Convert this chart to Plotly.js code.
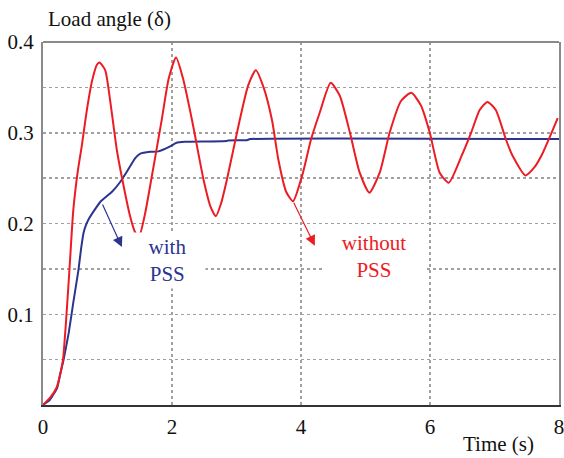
<!DOCTYPE html>
<html>
<head>
<meta charset="utf-8">
<script src="https://cdn.plot.ly/plotly-3.0.1.min.js"></script>
<style>
  html, body { margin: 0; padding: 0; background: #fff; }
  #chart { width: 564px; height: 458px; }
</style>
</head>
<body>
<div id="chart"></div>
<script>
// Load angle response, with and without a power system stabiliser
const timeWithPSS = [0, 0.11, 0.22, 0.27, 0.32, 0.40, 0.47, 0.55, 0.59, 0.63, 0.67, 0.71, 0.80, 0.89, 1.07, 1.20, 1.30, 1.43, 1.51, 1.66, 1.79, 1.97, 2.07, 2.20, 2.85, 2.87, 3.16, 3.21, 8.0];
const angleWithPSS = [0, 0.006, 0.019, 0.035, 0.05, 0.080, 0.113, 0.149, 0.172, 0.190, 0.199, 0.205, 0.215, 0.224, 0.235, 0.246, 0.257, 0.272, 0.277, 0.279, 0.2795, 0.285, 0.289, 0.290, 0.291, 0.2915, 0.2918, 0.293, 0.293];

const timeWithoutPSS = [0, 0.11, 0.21, 0.27, 0.31, 0.35, 0.41, 0.47, 0.54, 0.60, 0.68, 0.76, 0.836, 0.876, 0.964, 1.04, 1.145, 1.22, 1.35, 1.43, 1.486, 1.58, 1.66, 1.84, 1.95, 2.063, 2.17, 2.31, 2.49, 2.60, 2.68, 2.76, 2.85, 3.05, 3.18, 3.30, 3.42, 3.55, 3.65, 3.77, 3.876, 4.03, 4.153, 4.29, 4.46, 4.60, 4.757, 4.91, 5.06, 5.22, 5.376, 5.55, 5.71, 5.86, 5.995, 6.15, 6.29, 6.486, 6.64, 6.77, 6.89, 7.02, 7.18, 7.285, 7.48, 7.62, 7.75, 7.98];
const angleWithoutPSS = [0, 0.008, 0.019, 0.035, 0.05, 0.085, 0.149, 0.215, 0.258, 0.285, 0.325, 0.357, 0.375, 0.3775, 0.369, 0.336, 0.281, 0.252, 0.208, 0.19, 0.185, 0.21, 0.241, 0.314, 0.36, 0.383, 0.36, 0.314, 0.248, 0.218, 0.208, 0.222, 0.248, 0.314, 0.352, 0.369, 0.35, 0.314, 0.27, 0.235, 0.2245, 0.256, 0.292, 0.322, 0.355, 0.341, 0.3005, 0.256, 0.234, 0.256, 0.3005, 0.335, 0.344, 0.33, 0.3005, 0.256, 0.245, 0.274, 0.3005, 0.325, 0.334, 0.325, 0.292, 0.274, 0.253, 0.262, 0.278, 0.316];

const xTicks = [0, 2, 4, 6, 8];
const yTicks = [0.05, 0.1, 0.15, 0.2, 0.25, 0.3, 0.35, 0.4];
const yTickText = ['', '0.1', '', '0.2', '', '0.3', '', '0.4'];

const RED = '#ec1c24';
const BLUE = '#2b3590';
const FONT = "'Liberation Serif', 'Times New Roman', Times, serif";
const SIZE = 21;

const traces = [
  {
    x: timeWithPSS, y: angleWithPSS, type: 'scatter', mode: 'lines',
    line: { color: BLUE, width: 2, shape: 'spline', smoothing: 0.4 }, name: 'with PSS'
  },
  {
    x: timeWithoutPSS, y: angleWithoutPSS, type: 'scatter', mode: 'lines',
    line: { color: RED, width: 2, shape: 'spline', smoothing: 0.6 }, name: 'without PSS'
  }
];

const layout = {
  width: 564, height: 458,
  margin: { l: 43, r: 5, t: 42, b: 53 },
  paper_bgcolor: '#fff', plot_bgcolor: '#fff',
  showlegend: false,
  font: { family: FONT, size: SIZE, color: '#111' },
  xaxis: {
    range: [0, 8], tickvals: xTicks, ticktext: xTicks.map(String),
    showgrid: true, gridcolor: '#a0a0a0', griddash: 'dot', gridwidth: 1.5,
    showline: true, linecolor: '#333', linewidth: 1.5,
    zeroline: false, ticks: '', ticklabelstandoff: 2, ticklabeloverflow: 'allow',
    tickfont: { family: FONT, size: SIZE, color: '#111' }
  },
  yaxis: {
    range: [0, 0.4], tickvals: yTicks, ticktext: yTickText,
    showgrid: true, gridcolor: '#a0a0a0', griddash: 'dot', gridwidth: 1.5,
    showline: true, linecolor: '#8a8a8a', linewidth: 2, mirror: true,
    zeroline: false, ticks: '', ticklabelstandoff: 3, ticklabeloverflow: 'allow',
    tickfont: { family: FONT, size: SIZE, color: '#111' }
  },
  shapes: [
    // top edge of the frame
    { type: 'line', xref: 'paper', yref: 'paper', x0: 0, x1: 1, y0: 1, y1: 1,
      line: { color: '#8a8a8a', width: 2 } }
  ],
  annotations: [
    { text: 'Load angle (δ)', xref: 'paper', yref: 'paper', x: 0.006, y: 1.062,
      xanchor: 'left', yanchor: 'middle', showarrow: false,
      font: { family: FONT, size: SIZE, color: '#111' } },
    { text: 'Time (s)', xref: 'paper', yref: 'paper', x: 0.811, y: -0.108,
      xanchor: 'left', yanchor: 'middle', showarrow: false,
      font: { family: FONT, size: SIZE, color: '#111' } },
    { text: 'with<br>PSS', x: 1.93, y: 0.159, xref: 'x', yref: 'y',
      showarrow: false, bgcolor: '#fff', borderpad: 2, width: 71,
      font: { family: FONT, size: SIZE, color: BLUE } },
    { text: 'without<br>PSS', x: 5.13, y: 0.164, xref: 'x', yref: 'y',
      showarrow: false, bgcolor: '#fff', borderpad: 2, width: 96,
      font: { family: FONT, size: SIZE, color: RED } },
    // arrow from the blue curve down to its label
    { text: '', x: 1.223, y: 0.174, ax: 0.913, ay: 0.2227, axref: 'x', ayref: 'y',
      xref: 'x', yref: 'y', showarrow: true, arrowhead: 2, arrowsize: 1.7,
      arrowwidth: 1.2, arrowcolor: BLUE, standoff: 0, startstandoff: 0 },
    // arrow from the red curve down to its label
    { text: '', x: 4.215, y: 0.1756, ax: 3.876, ay: 0.2245, axref: 'x', ayref: 'y',
      xref: 'x', yref: 'y', showarrow: true, arrowhead: 2, arrowsize: 1.7,
      arrowwidth: 1.2, arrowcolor: RED, standoff: 0, startstandoff: 0 }
  ]
};

Plotly.newPlot('chart', traces, layout, { staticPlot: true, displayModeBar: false });
</script>
</body>
</html>
